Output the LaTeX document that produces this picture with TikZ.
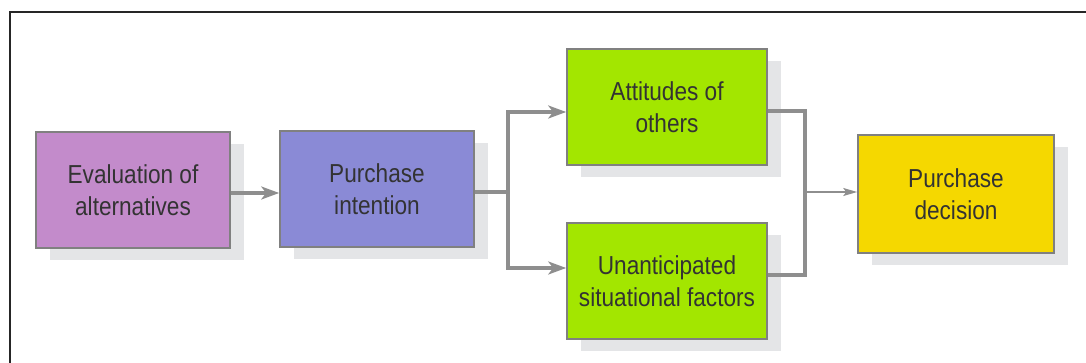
\documentclass[tikz,border=0pt]{standalone}
\usepackage{fontspec}
\setmainfont{Liberation Sans}[FakeStretch=0.87]
\usetikzlibrary{arrows.meta, shadows}

\definecolor{evalcol}{HTML}{C38BCB}
\definecolor{intentcol}{HTML}{8A8AD6}
\definecolor{factorcol}{HTML}{A3E600}
\definecolor{decisioncol}{HTML}{F5D800}
\definecolor{shadowgray}{HTML}{E4E5E7}
\definecolor{linkgray}{HTML}{8E8E8E}
\definecolor{textgray}{HTML}{333333}

\begin{document}
\begin{tikzpicture}[x=0.5pt, y=-0.5pt,
  stage/.style={draw=linkgray!90!black, line width=0.8pt, align=center,
    text=textgray, font=\fontsize{13}{16}\selectfont,
    minimum width=97pt, minimum height=58pt, inner sep=0pt,
    drop shadow={shadow xshift=7pt, shadow yshift=-6pt, fill=shadowgray, opacity=1}},
  link/.style={draw=linkgray, line width=1.6pt,
    -{Stealth[length=9pt, width=6.5pt, inset=2.5pt]}},
  joinlink/.style={draw=linkgray, line width=1.6pt},
  outlink/.style={draw=linkgray, line width=0.8pt,
    -{Stealth[length=7pt, width=4pt, inset=1.5pt]}}]
  \useasboundingbox (0,0) rectangle (1086,363);

  % Rahmen (oben und links)
  \draw[line width=1pt, black!85] (10,363) -- (10,12) -- (1086,12);

  % Stufen
  \node[stage, fill=evalcol] (eval) at (133,190) {Evaluation of\\alternatives};
  \node[stage, fill=intentcol] (intent) at (377,189) {Purchase\\intention};
  \node[stage, fill=factorcol, minimum width=100pt] (attit) at (667,107) {Attitudes of\\others};
  \node[stage, fill=factorcol, minimum width=100pt] (unant) at (667,281) {Unanticipated\\situational factors};
  \node[stage, fill=decisioncol, minimum width=98pt, minimum height=59pt] (decis) at (956,194) {Purchase\\decision};

  % Verzweigung
  \coordinate (split) at (508,192);
  \coordinate (join) at (805,192);

  % Pfeile
  \draw[link] ([yshift=-1.5pt]eval.east) -- ([yshift=-1.5pt]intent.west |- eval.east);
  \draw[joinlink] ([yshift=-1.5pt]intent.east) -- (split);
  \draw[link] (split) |- ([yshift=-2.5pt]attit.west);
  \draw[link] (split) |- ([yshift=6.5pt]unant.west);
  \draw[joinlink] ([yshift=-2pt]attit.east) -| (join) |- ([yshift=3pt]unant.east);
  \draw[outlink] (join) -- (join -| decis.west);
\end{tikzpicture}
\end{document}
